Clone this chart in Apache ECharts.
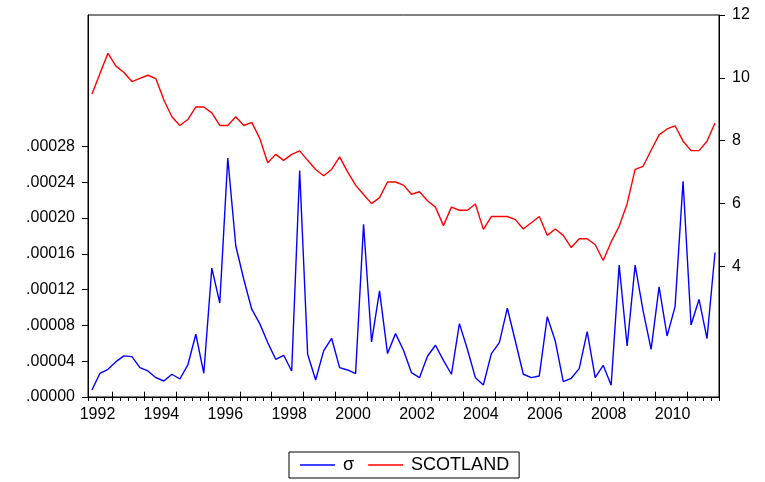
<!DOCTYPE html>
<html>
<head>
<meta charset="utf-8">
<script src="https://cdn.jsdelivr.net/npm/echarts@6/dist/echarts.min.js"></script>
<style>
html,body{margin:0;padding:0;background:#fff;}
#chart{width:765px;height:482px;}
</style>
</head>
<body>
<div id="chart"></div>
<script>
// Quarterly observations 1992Q1 .. 2011Q3
const startYear = 1992;
const nObs = 79;
const categories = [];
for (let k = 0; k < nObs; k++) {
  categories.push((startYear + Math.floor(k / 4)) + 'Q' + (k % 4 + 1));
}

const sigma = [
  0.0000078, 0.0000265, 0.0000310, 0.0000395, 0.0000459, 0.0000451, 0.0000328, 0.0000291, 0.0000216, 0.0000179,
  0.0000254, 0.0000201, 0.0000358, 0.0000701, 0.0000265, 0.0001440, 0.0001050, 0.0002670, 0.0001690, 0.0001316,
  0.0000981, 0.0000820, 0.0000608, 0.0000421, 0.0000466, 0.0000291, 0.0002530, 0.0000477, 0.0000190, 0.0000515,
  0.0000656, 0.0000328, 0.0000302, 0.0000260, 0.0001930, 0.0000615, 0.0001186, 0.0000485, 0.0000708, 0.0000522,
  0.0000272, 0.0000216, 0.0000455, 0.0000578, 0.0000410, 0.0000254, 0.0000820, 0.0000533, 0.0000216, 0.0000134,
  0.0000485, 0.0000607, 0.0000992, 0.0000626, 0.0000254, 0.0000216, 0.0000235, 0.0000898, 0.0000626, 0.0000171,
  0.0000209, 0.0000317, 0.0000730, 0.0000216, 0.0000354, 0.0000131, 0.0001473, 0.0000570, 0.0001473, 0.0000962,
  0.0000533, 0.0001230, 0.0000682, 0.0001010, 0.0002410, 0.0000805, 0.0001090, 0.0000652, 0.0001614
];

const scotland = [
  9.48, 10.14, 10.78, 10.37, 10.17, 9.88, 9.98, 10.08, 9.97, 9.29,
  8.76, 8.48, 8.67, 9.07, 9.07, 8.88, 8.48, 8.48, 8.76, 8.48,
  8.58, 8.07, 7.29, 7.56, 7.37, 7.56, 7.67, 7.37, 7.08, 6.88,
  7.08, 7.48, 7.00, 6.58, 6.28, 5.99, 6.18, 6.68, 6.68, 6.58,
  6.29, 6.37, 6.08, 5.88, 5.29, 5.88, 5.78, 5.78, 5.98, 5.17,
  5.58, 5.58, 5.58, 5.48, 5.18, 5.38, 5.58, 4.98, 5.18, 4.98,
  4.59, 4.87, 4.87, 4.68, 4.18, 4.77, 5.27, 5.99, 7.08, 7.18,
  7.69, 8.18, 8.37, 8.47, 7.98, 7.68, 7.68, 7.98, 8.56
];

const leftTicks = [0, 0.00004, 0.00008, 0.00012, 0.00016, 0.00020, 0.00024, 0.00028];
const rightTicks = [4, 6, 8, 10, 12];

const FONT = 'Liberation Sans, Arial, sans-serif';
const chart = echarts.init(document.getElementById('chart'));
chart.setOption({
  animation: false,
  backgroundColor: '#fff',
  grid: {
    left: 88, right: 46, top: 15, bottom: 85,
    show: true, borderColor: '#000', borderWidth: 1, backgroundColor: 'transparent'
  },
  legend: {
    left: 289, top: 452,
    padding: [4, 10, 4, 11],
    borderColor: '#000', borderWidth: 1,
    itemWidth: 35, itemHeight: 1.5, itemGap: 14,
    icon: 'rect',
    textStyle: { fontFamily: FONT, fontSize: 18, color: '#000', padding: [0, 0, 0, 3] },
    data: ['σ', 'SCOTLAND']
  },
  xAxis: [
    {
      type: 'category', data: categories, boundaryGap: true, position: 'bottom',
      axisLine: { show: true, lineStyle: { color: '#000', width: 1 } },
      axisTick: { show: true, interval: 0, length: 4, lineStyle: { color: '#000' } },
      axisLabel: {
        interval: function (idx) { return idx % 8 === 0; },
        formatter: function (v) { return v.slice(0, 4); },
        fontFamily: FONT, fontSize: 16, color: '#000', margin: 10,
        padding: [0, 0, 0, 11]
      },
      splitLine: { show: false }
    },
    {
      type: 'category', data: categories, boundaryGap: true, position: 'bottom',
      axisLine: { show: false },
      axisTick: { show: true, interval: function (idx) { return idx % 4 === 3; }, length: 7, lineStyle: { color: '#000' } },
      axisLabel: { show: false },
      splitLine: { show: false }
    }
  ],
  yAxis: [
    {
      type: 'value', position: 'left', min: 0, max: 0.0004268,
      axisLine: { show: true, lineStyle: { color: '#000' } },
      axisTick: { show: true, length: 6, customValues: leftTicks, lineStyle: { color: '#000' } },
      axisLabel: {
        customValues: leftTicks,
        formatter: function (v) { return v.toFixed(5).replace(/^0/, ''); },
        fontFamily: FONT, fontSize: 16, color: '#000', margin: 13
      },
      splitLine: { show: false }
    },
    {
      type: 'value', position: 'right', min: -0.17, max: 12,
      axisLine: { show: true, lineStyle: { color: '#000' } },
      axisTick: { show: true, length: 6, customValues: rightTicks, lineStyle: { color: '#000' } },
      axisLabel: {
        customValues: rightTicks,
        fontFamily: FONT, fontSize: 16, color: '#000', margin: 13
      },
      splitLine: { show: false }
    }
  ],
  series: [
    {
      name: 'σ', type: 'line', data: sigma, xAxisIndex: 0, yAxisIndex: 0,
      symbol: 'none', showSymbol: false,
      lineStyle: { color: '#0000FF', width: 1.4 }, itemStyle: { color: '#0000FF' }
    },
    {
      name: 'SCOTLAND', type: 'line', data: scotland, xAxisIndex: 0, yAxisIndex: 1,
      symbol: 'none', showSymbol: false,
      lineStyle: { color: '#FF0000', width: 1.4 }, itemStyle: { color: '#FF0000' }
    }
  ]
});
</script>
</body>
</html>
